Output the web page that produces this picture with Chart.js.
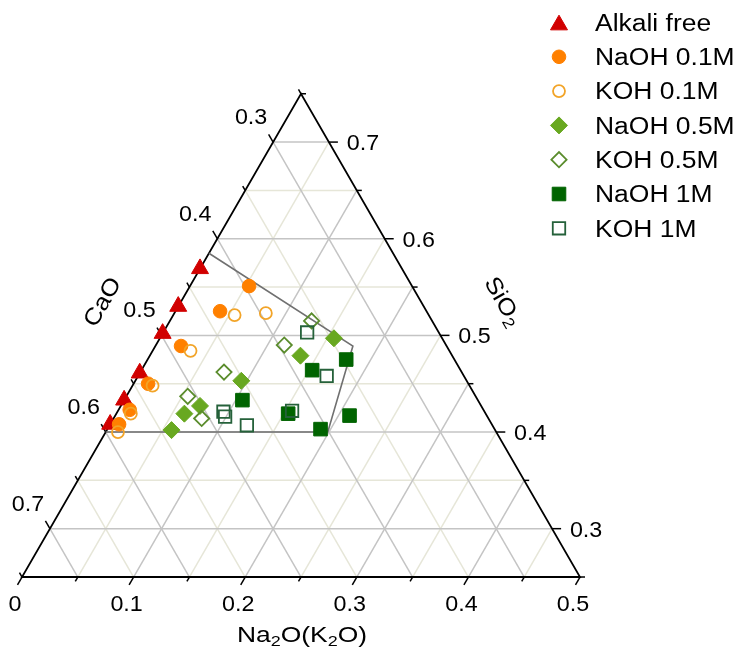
<!DOCTYPE html>
<html>
<head>
<meta charset="utf-8">
<script src="https://cdn.jsdelivr.net/npm/chart.js@4.4.1/dist/chart.umd.min.js"></script>
<style>
  html, body { margin: 0; padding: 0; background: #fff; }
</style>
</head>
<body>
<canvas id="ternary" width="734" height="653"></canvas>
<script>
// compositions as fractions; CaO = 1 - Na2O - SiO2
const alkaliFreeNa2O = [0, 0, 0, 0, 0, 0];
const alkaliFreeSiO2 = [0.569, 0.530, 0.502, 0.461, 0.433, 0.408];

const naoh01Na2O = [0.053, 0.040, 0.023, 0.013, 0.010, 0.008];
const naoh01SiO2 = [0.551, 0.525, 0.489, 0.450, 0.423, 0.408];

const koh01Na2O = [0.082, 0.055, 0.034, 0.018, 0.013, 0.011];
const koh01SiO2 = [0.523, 0.521, 0.484, 0.448, 0.419, 0.400];

const naoh05Na2O = [0.156, 0.135, 0.095, 0.071, 0.061, 0.058];
const naoh05SiO2 = [0.497, 0.479, 0.453, 0.427, 0.419, 0.402];

const koh05Na2O = [0.127, 0.115, 0.075, 0.055, 0.079];
const koh05SiO2 = [0.515, 0.490, 0.462, 0.437, 0.414];

const naoh1Na2O = [0.178, 0.153, 0.106, 0.154, 0.210, 0.191];
const naoh1SiO2 = [0.475, 0.464, 0.433, 0.419, 0.417, 0.403];

const koh1Na2O = [0.129, 0.169, 0.095, 0.099, 0.156, 0.123];
const koh1SiO2 = [0.503, 0.458, 0.421, 0.416, 0.422, 0.407];

// outlined region
const regionNa2O = [0, 0.177, 0.199, 0];
const regionSiO2 = [0.585, 0.489, 0.400, 0.400];

// edge tick labels
const na2oTicks = [0, 0.1, 0.2, 0.3, 0.4, 0.5];
const na2oTickLabels = ['0', '0.1', '0.2', '0.3', '0.4', '0.5'];
const caoTicks = [0.3, 0.4, 0.5, 0.6, 0.7];
const caoTickLabels = ['0.3', '0.4', '0.5', '0.6', '0.7'];
const sio2Ticks = [0.3, 0.4, 0.5, 0.6, 0.7];
const sio2TickLabels = ['0.3', '0.4', '0.5', '0.6', '0.7'];

const FONT = '"Liberation Sans", Arial, Helvetica, sans-serif';
const GRID_MAJOR = '#c4c4c4';
const GRID_MINOR = '#e6e6d8';
const SQ3 = Math.sqrt(3);

// Na2O axis spans 0..0.5, SiO2 0.25..0.75 -> unit triangle
function toXY(na, si) {
  return { x: 2 * na + (si - 0.25), y: (si - 0.25) * SQ3 };
}
function points(na, si) {
  return na.map((v, i) => toXY(v, si[i]));
}

const series = [
  { label: 'Alkali free', na: alkaliFreeNa2O, si: alkaliFreeSiO2, style: 'triangle', r: 9.8, color: '#d10000', open: false },
  { label: 'NaOH 0.1M', na: naoh01Na2O, si: naoh01SiO2, style: 'circle', r: 6.8, color: '#ff8000', open: false },
  { label: 'KOH 0.1M', na: koh01Na2O, si: koh01SiO2, style: 'circle', r: 6.0, color: '#f2a428', open: true },
  { label: 'NaOH 0.5M', na: naoh05Na2O, si: naoh05SiO2, style: 'rectRot', r: 8.5, color: '#68a820', open: false },
  { label: 'KOH 0.5M', na: koh05Na2O, si: koh05SiO2, style: 'rectRot', r: 7.6, color: '#5a8c2c', open: true },
  { label: 'NaOH 1M', na: naoh1Na2O, si: naoh1SiO2, style: 'rect', r: 9.6, color: '#006400', open: false },
  { label: 'KOH 1M', na: koh1Na2O, si: koh1SiO2, style: 'rect', r: 8.8, color: '#25613a', open: true }
];

const datasets = series.map((s, i) => ({
  label: s.label,
  data: points(s.na, s.si),
  pointStyle: s.style,
  pointRadius: s.r,
  pointHoverRadius: s.r,
  pointBackgroundColor: s.open ? 'rgba(0,0,0,0)' : s.color,
  pointBorderColor: s.color,
  pointBorderWidth: s.open ? 1.8 : 1,
  showLine: false,
  order: series.length - i,
  inLegend: true
}));

datasets.push({
  label: 'region',
  data: points(regionNa2O, regionSiO2),
  showLine: true,
  borderColor: '#707070',
  borderWidth: 1.6,
  pointRadius: 0,
  fill: false,
  order: 100,
  inLegend: false
});

// text with optional subscripts, centred on (cx, cy) or left aligned
function drawParts(ctx, parts, cx, cy, size, angle, stretch, align) {
  const main = size + 'px ' + FONT;
  const sub = Math.round(size * 0.68) + 'px ' + FONT;
  ctx.save();
  ctx.translate(cx, cy);
  ctx.rotate(angle);
  ctx.scale(stretch, 1);
  ctx.fillStyle = '#000';
  ctx.textBaseline = 'alphabetic';
  ctx.textAlign = 'left';
  let total = 0;
  parts.forEach(p => { ctx.font = p[1] ? sub : main; total += ctx.measureText(p[0]).width; });
  let xPos = align === 'left' ? 0 : -total / 2;
  const base = size * 0.358;
  parts.forEach(p => {
    ctx.font = p[1] ? sub : main;
    ctx.fillText(p[0], xPos, base + (p[1] ? size * 0.18 : 0));
    xPos += ctx.measureText(p[0]).width;
  });
  ctx.restore();
}

const ternaryFrame = {
  id: 'ternaryFrame',
  beforeDatasetsDraw(chart) {
    const ctx = chart.ctx;
    const sx = chart.scales.x, sy = chart.scales.y;
    const pt = (na, si) => {
      const p = toXY(na, si);
      return [sx.getPixelForValue(p.x), sy.getPixelForValue(p.y)];
    };
    const line = (a, b, color, width) => {
      ctx.beginPath();
      ctx.moveTo(a[0], a[1]);
      ctx.lineTo(b[0], b[1]);
      ctx.strokeStyle = color;
      ctx.lineWidth = width;
      ctx.stroke();
    };
    ctx.save();

    // grid, minor first
    [false, true].forEach(majorPass => {
      const col = majorPass ? GRID_MAJOR : GRID_MINOR;
      for (let k = 1; k < 10; k++) {
        const v = 0.25 + k * 0.05;
        const n = k * 0.05;
        if ((k % 2 === 1) === majorPass) {
          line(pt(0, v), pt(0.75 - v, v), col, 1.5);        // SiO2 = v
          line(pt(0, 1 - v), pt(0.75 - v, 0.25), col, 1.5); // CaO = v
        }
        if ((k % 2 === 0) === majorPass) {
          line(pt(n, 0.25), pt(n, 0.75 - n), col, 1.5);     // Na2O = n
        }
      }
    });

    // frame
    ctx.beginPath();
    const a = pt(0, 0.25), b = pt(0.5, 0.25), c = pt(0, 0.75);
    ctx.moveTo(a[0], a[1]);
    ctx.lineTo(b[0], b[1]);
    ctx.lineTo(c[0], c[1]);
    ctx.closePath();
    ctx.strokeStyle = '#000';
    ctx.lineWidth = 1.8;
    ctx.lineJoin = 'miter';
    ctx.stroke();

    // ticks
    for (let k = 0; k <= 10; k++) {
      const v = 0.25 + k * 0.05;
      const n = k * 0.05;
      const lenV = k % 2 === 1 ? 9 : 5;
      const lenN = k % 2 === 0 ? 9 : 5;
      let p = pt(n, 0.25);
      line(p, [p[0] - 0.5 * lenN, p[1] + 0.866 * lenN], '#000', 1.5);
      p = pt(0, 1 - v);
      line(p, [p[0] - 0.5 * lenV, p[1] - 0.866 * lenV], '#000', 1.5);
      p = pt(0.75 - v, v);
      line(p, [p[0] + lenV, p[1]], '#000', 1.5);
    }

    // tick labels
    na2oTicks.forEach((t, i) => {
      const p = pt(t, 0.25);
      drawParts(ctx, [[na2oTickLabels[i], false]], p[0] - 7, p[1] + 26, 22, 0, 1.06);
    });
    caoTicks.forEach((t, i) => {
      const p = pt(0, 1 - t);
      drawParts(ctx, [[caoTickLabels[i], false]], p[0] - 22, p[1] - 26, 22, 0, 1.06);
    });
    sio2Ticks.forEach((t, i) => {
      const p = pt(0.75 - t, t);
      drawParts(ctx, [[sio2TickLabels[i], false]], p[0] + 34, p[1], 22, 0, 1.06);
    });

    // axis titles
    drawParts(ctx, [['Na', false], ['2', true], ['O(K', false], ['2', true], ['O)', false]], 302, 634.5, 22, 0, 1.2);
    drawParts(ctx, [['CaO', false]], 101.5, 301.5, 23, -Math.PI / 3, 1.12);
    drawParts(ctx, [['SiO', false], ['2', true]], 504, 301, 23, Math.PI / 3, 1.12);

    ctx.restore();
  }
};

const ternaryLegend = {
  id: 'ternaryLegend',
  afterDraw(chart) {
    const ctx = chart.ctx;
    let row = 0;
    chart.data.datasets.forEach(ds => {
      if (!ds.inLegend) return;
      const y = 22.5 + row * 34.3;
      ctx.save();
      ctx.fillStyle = ds.pointBackgroundColor;
      ctx.strokeStyle = ds.pointBorderColor;
      ctx.lineWidth = ds.pointBorderWidth;
      const dy = ds.pointStyle === 'triangle' ? ds.pointRadius / 4 : 0;
      Chart.helpers.drawPoint(ctx, {
        pointStyle: ds.pointStyle,
        radius: ds.pointRadius,
        rotation: 0,
        borderWidth: ds.pointBorderWidth
      }, 559, y + dy);
      ctx.restore();
      drawParts(ctx, [[ds.label, false]], 595, y, 23, 0, 1.15, 'left');
      row++;
    });
  }
};

new Chart(document.getElementById('ternary'), {
  type: 'scatter',
  data: { datasets: datasets },
  options: {
    responsive: false,
    animation: false,
    devicePixelRatio: 1,
    events: [],
    layout: { padding: 0, autoPadding: false },
    plugins: {
      legend: { display: false },
      tooltip: { enabled: false }
    },
    scales: {
      x: { type: 'linear', display: false, min: -22 / 558, max: 712 / 558 },
      y: { type: 'linear', display: false, min: -76 / 558, max: 577 / 558 }
    }
  },
  plugins: [ternaryFrame, ternaryLegend]
});
</script>
</body>
</html>
